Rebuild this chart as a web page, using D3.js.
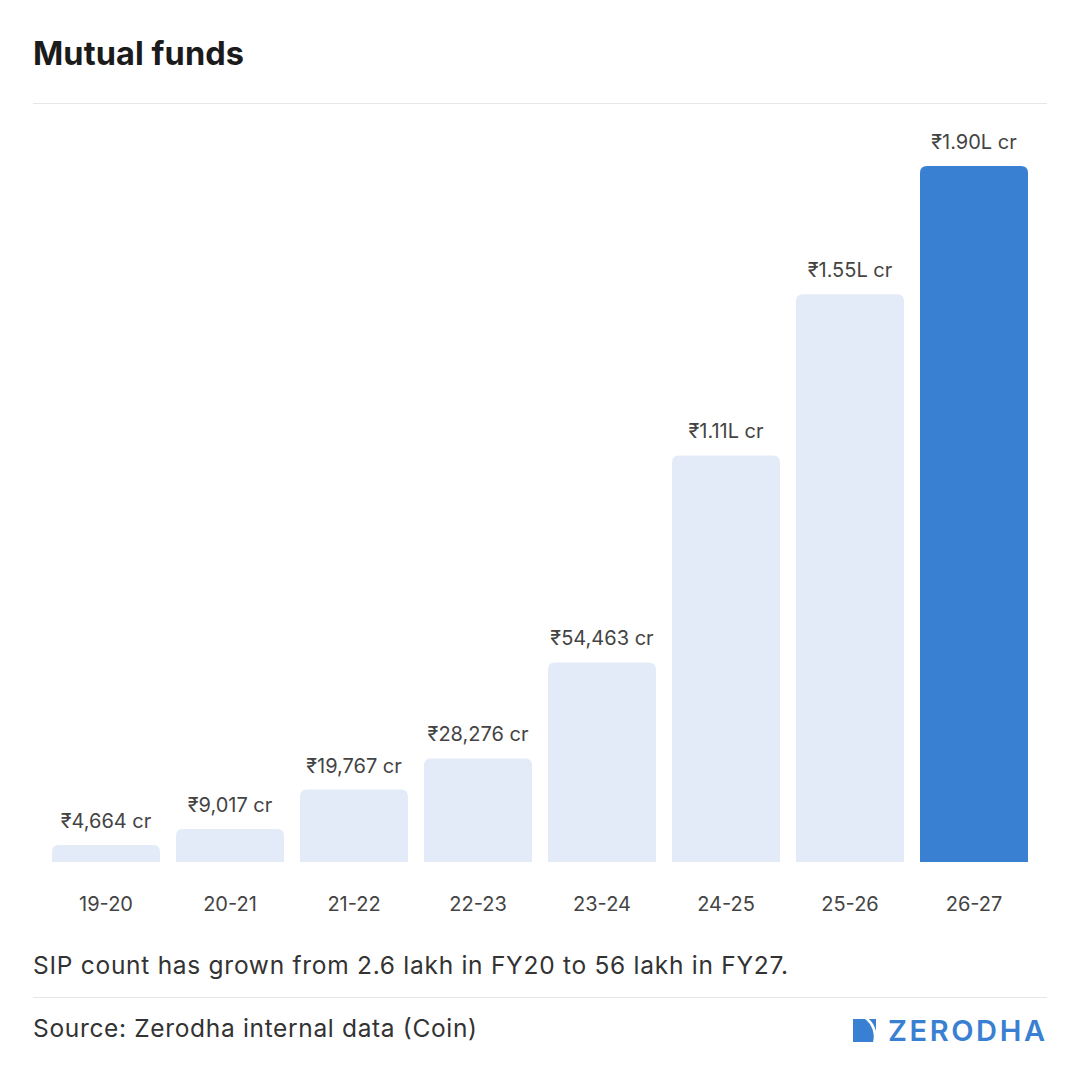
<!DOCTYPE html>
<html>
<head>
<meta charset="utf-8">
<script src="https://cdn.jsdelivr.net/npm/d3@7"></script>
<style>
  html, body { margin: 0; padding: 0; background: #fff; }
  svg { display: block; font-family: Inter, "Noto Sans", sans-serif; }
</style>
</head>
<body>
<svg id="chart" width="1080" height="1080"></svg>
<script>
// data
const years = ["19-20", "20-21", "21-22", "22-23", "23-24", "24-25", "25-26", "26-27"];
const values = [4664, 9017, 19767, 28276, 54463, 111000, 155000, 190000];
const valueLabels = ["₹4,664 cr", "₹9,017 cr", "₹19,767 cr", "₹28,276 cr", "₹54,463 cr", "₹1.11L cr", "₹1.55L cr", "₹1.90L cr"];

const svg = d3.select("#chart");

// header
svg.append("text")
  .attr("x", 33).attr("y", 65)
  .attr("font-size", 32.5).attr("font-weight", 700)
  .attr("fill", "#1b1b1b")
  .attr("textLength", 211)
  .attr("lengthAdjust", "spacing")
  .text("Mutual funds");

svg.append("line")
  .attr("x1", 33).attr("x2", 1047).attr("y1", 103.5).attr("y2", 103.5)
  .attr("stroke", "#e6e6e6");

// scales
const x = d3.scaleBand()
  .domain(years)
  .range([44, 1036])
  .paddingInner(16 / 124)
  .paddingOuter(8 / 124);

const y = d3.scaleLinear()
  .domain([0, 190000])
  .range([862, 166]);

// bar with rounded top corners only
const barPath = (x0, y0, w, h, r) => {
  r = Math.min(r, h, w / 2);
  return `M${x0},${y0 + h}V${y0 + r}Q${x0},${y0} ${x0 + r},${y0}H${x0 + w - r}Q${x0 + w},${y0} ${x0 + w},${y0 + r}V${y0 + h}Z`;
};

const g = svg.append("g");

g.selectAll(".bar")
  .data(values)
  .enter()
  .append("path")
  .attr("class", "bar")
  .attr("d", (d, i) => barPath(x(years[i]), y(d), x.bandwidth(), y(0) - y(d), 7))
  .attr("fill", (d, i) => i === values.length - 1 ? "#3a80d2" : "#e2ebf7");

g.selectAll(".vlabel")
  .data(values)
  .enter()
  .append("text")
  .attr("class", "vlabel")
  .attr("x", (d, i) => x(years[i]) + x.bandwidth() / 2)
  .attr("y", d => y(d) - 17)
  .attr("text-anchor", "middle")
  .attr("font-size", 20)
  .attr("fill", "#444")
  .text((d, i) => valueLabels[i]);

// x axis labels
const xAxis = d3.axisBottom(x).tickSize(0).tickPadding(0);
const ax = svg.append("g")
  .attr("transform", "translate(0,897)")
  .call(xAxis);
ax.select(".domain").remove();
ax.selectAll("text")
  .attr("font-size", 20)
  .attr("font-family", "Inter, 'Noto Sans', sans-serif")
  .attr("fill", "#444");

// footer
svg.append("text")
  .attr("x", 33).attr("y", 974)
  .attr("font-size", 24.5)
  .attr("fill", "#333")
  .attr("textLength", 755)
  .attr("lengthAdjust", "spacing")
  .text("SIP count has grown from 2.6 lakh in FY20 to 56 lakh in FY27.");

svg.append("line")
  .attr("x1", 33).attr("x2", 1047).attr("y1", 997.5).attr("y2", 997.5)
  .attr("stroke", "#e6e6e6");

svg.append("text")
  .attr("x", 33).attr("y", 1037)
  .attr("font-size", 24.5)
  .attr("fill", "#333")
  .attr("textLength", 444)
  .attr("lengthAdjust", "spacing")
  .text("Source: Zerodha internal data (Coin)");

// logo
const logo = svg.append("g").attr("fill", "#3a80d2");
logo.append("path")
  .attr("d", "M853,1019H865A22,22 0 0 1 873,1042H853Z");
logo.append("path")
  .attr("d", "M869,1019H876V1031A26,26 0 0 0 869,1019Z");
logo.append("text")
  .attr("x", 888).attr("y", 1041)
  .attr("font-size", 29).attr("font-weight", 600)
  .attr("textLength", 157)
  .attr("lengthAdjust", "spacing")
  .text("ZERODHA");
</script>
</body>
</html>
